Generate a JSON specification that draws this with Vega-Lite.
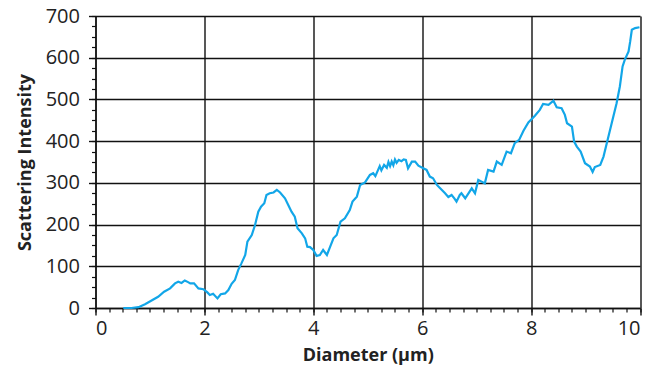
{
  "$schema": "https://vega.github.io/schema/vega-lite/v6.json",
  "width": 544.5,
  "height": 292,
  "autosize": {"type": "none"},
  "padding": {"left": 95.5, "top": 16, "right": 10, "bottom": 66},
  "background": "white",
  "config": {
    "view": {"stroke": null},
    "font": "Open Sans",
    "axis": {
      "labelFont": "Open Sans",
      "titleFont": "Open Sans",
      "labelColor": "#222",
      "titleColor": "#222"
    }
  },
  "data": {
    "values": [
      {"d": 0.51, "s": 0}, {"d": 0.66, "s": 0}, {"d": 0.79, "s": 2}, {"d": 0.91, "s": 9},
      {"d": 1.03, "s": 18}, {"d": 1.15, "s": 27}, {"d": 1.26, "s": 39}, {"d": 1.37, "s": 47},
      {"d": 1.46, "s": 59}, {"d": 1.52, "s": 63}, {"d": 1.58, "s": 60}, {"d": 1.64, "s": 66},
      {"d": 1.70, "s": 62}, {"d": 1.74, "s": 59}, {"d": 1.81, "s": 59}, {"d": 1.89, "s": 47},
      {"d": 1.98, "s": 45}, {"d": 2.05, "s": 38}, {"d": 2.10, "s": 31}, {"d": 2.16, "s": 34},
      {"d": 2.24, "s": 23}, {"d": 2.30, "s": 33}, {"d": 2.38, "s": 35}, {"d": 2.44, "s": 43},
      {"d": 2.50, "s": 58}, {"d": 2.56, "s": 67}, {"d": 2.62, "s": 91}, {"d": 2.68, "s": 107},
      {"d": 2.75, "s": 127}, {"d": 2.79, "s": 159}, {"d": 2.87, "s": 175}, {"d": 2.93, "s": 199},
      {"d": 2.99, "s": 231}, {"d": 3.04, "s": 243}, {"d": 3.10, "s": 251}, {"d": 3.14, "s": 271},
      {"d": 3.20, "s": 275}, {"d": 3.27, "s": 277}, {"d": 3.33, "s": 283}, {"d": 3.39, "s": 277},
      {"d": 3.48, "s": 263}, {"d": 3.54, "s": 247}, {"d": 3.60, "s": 231}, {"d": 3.66, "s": 219},
      {"d": 3.71, "s": 191}, {"d": 3.79, "s": 179}, {"d": 3.85, "s": 167}, {"d": 3.89, "s": 147},
      {"d": 3.94, "s": 146}, {"d": 4.00, "s": 139}, {"d": 4.06, "s": 125}, {"d": 4.12, "s": 127},
      {"d": 4.18, "s": 139}, {"d": 4.25, "s": 127}, {"d": 4.31, "s": 147}, {"d": 4.37, "s": 167},
      {"d": 4.43, "s": 175}, {"d": 4.50, "s": 207}, {"d": 4.58, "s": 215}, {"d": 4.67, "s": 235},
      {"d": 4.72, "s": 255}, {"d": 4.80, "s": 267}, {"d": 4.86, "s": 295}, {"d": 4.95, "s": 301},
      {"d": 5.04, "s": 319}, {"d": 5.10, "s": 323}, {"d": 5.14, "s": 316}, {"d": 5.19, "s": 331},
      {"d": 5.22, "s": 340}, {"d": 5.25, "s": 330}, {"d": 5.30, "s": 343}, {"d": 5.35, "s": 336},
      {"d": 5.38, "s": 350}, {"d": 5.41, "s": 340}, {"d": 5.44, "s": 351}, {"d": 5.47, "s": 342},
      {"d": 5.50, "s": 356}, {"d": 5.53, "s": 348}, {"d": 5.57, "s": 355}, {"d": 5.62, "s": 352},
      {"d": 5.66, "s": 356}, {"d": 5.70, "s": 355}, {"d": 5.74, "s": 335}, {"d": 5.81, "s": 351},
      {"d": 5.87, "s": 351}, {"d": 5.93, "s": 341}, {"d": 6.02, "s": 335}, {"d": 6.08, "s": 331},
      {"d": 6.14, "s": 315}, {"d": 6.20, "s": 311}, {"d": 6.27, "s": 295}, {"d": 6.33, "s": 287},
      {"d": 6.42, "s": 275}, {"d": 6.48, "s": 266}, {"d": 6.54, "s": 271}, {"d": 6.59, "s": 263},
      {"d": 6.63, "s": 255}, {"d": 6.69, "s": 271}, {"d": 6.72, "s": 275}, {"d": 6.79, "s": 263},
      {"d": 6.85, "s": 275}, {"d": 6.91, "s": 287}, {"d": 6.97, "s": 275}, {"d": 7.03, "s": 307},
      {"d": 7.09, "s": 303}, {"d": 7.15, "s": 299}, {"d": 7.21, "s": 331}, {"d": 7.31, "s": 327},
      {"d": 7.37, "s": 351}, {"d": 7.46, "s": 343}, {"d": 7.55, "s": 375}, {"d": 7.63, "s": 371},
      {"d": 7.70, "s": 395}, {"d": 7.78, "s": 403}, {"d": 7.86, "s": 425}, {"d": 7.95, "s": 445},
      {"d": 8.07, "s": 461}, {"d": 8.16, "s": 475}, {"d": 8.22, "s": 489}, {"d": 8.32, "s": 487},
      {"d": 8.41, "s": 497}, {"d": 8.47, "s": 481}, {"d": 8.56, "s": 479}, {"d": 8.62, "s": 463},
      {"d": 8.66, "s": 443}, {"d": 8.75, "s": 435}, {"d": 8.79, "s": 399}, {"d": 8.84, "s": 387},
      {"d": 8.91, "s": 375}, {"d": 8.99, "s": 347}, {"d": 9.08, "s": 339}, {"d": 9.13, "s": 326},
      {"d": 9.17, "s": 338}, {"d": 9.27, "s": 343}, {"d": 9.33, "s": 363}, {"d": 9.39, "s": 395},
      {"d": 9.48, "s": 443}, {"d": 9.57, "s": 491}, {"d": 9.63, "s": 531}, {"d": 9.68, "s": 579},
      {"d": 9.72, "s": 595}, {"d": 9.79, "s": 615}, {"d": 9.82, "s": 639}, {"d": 9.85, "s": 667},
      {"d": 9.91, "s": 671}, {"d": 9.99, "s": 673}
    ]
  },
  "layer": [
    {
      "mark": {"type": "line", "opacity": 0},
      "encoding": {
        "x": {
          "field": "d", "type": "quantitative",
          "scale": {"domain": [0, 10], "nice": false, "zero": false},
          "axis": {
            "orient": "bottom", "values": [0,0.25,0.5,0.75,1,1.25,1.5,1.75,2,2.25,2.5,2.75,3,3.25,3.5,3.75,4,4.25,4.5,4.75,5,5.25,5.5,5.75,6,6.25,6.5,6.75,7,7.25,7.5,7.75,8,8.25,8.5,8.75,9,9.25,9.5,9.75,10],
            "labels": false, "grid": false, "domain": false, "title": null,
            "tickSize": 4, "tickColor": "#111", "tickWidth": 1.2
          }
        },
        "y": {
          "field": "s", "type": "quantitative",
          "scale": {"domain": [0, 700], "nice": false},
          "axis": {
            "orient": "left", "values": [0,25,50,75,100,125,150,175,200,225,250,275,300,325,350,375,400,425,450,475,500,525,550,575,600,625,650,675,700],
            "labels": false, "grid": false, "domain": false, "title": null,
            "tickSize": 4, "tickColor": "#111", "tickWidth": 1.2
          }
        }
      }
    },
    {
      "mark": {"type": "line", "color": "#12a6e8", "strokeWidth": 2.2, "interpolate": "linear"},
      "encoding": {
        "x": {
          "field": "d", "type": "quantitative",
          "scale": {"domain": [0, 10], "nice": false, "zero": false},
          "axis": {
            "orient": "bottom", "values": [0, 2, 4, 6, 8, 10], "title": "Diameter (µm)",
            "grid": true, "gridColor": "#111", "gridWidth": 1.4, "gridOpacity": 1,
            "domainColor": "#111", "domainWidth": 1.4,
            "tickColor": "#111", "tickSize": 7, "tickWidth": 1.4,
            "labelFontSize": 20, "labelPadding": 3,
            "titleFontSize": 18, "titleFontWeight": "bold", "titlePadding": 8
          }
        },
        "y": {
          "field": "s", "type": "quantitative",
          "scale": {"domain": [0, 700], "nice": false},
          "axis": {
            "orient": "left", "values": [0, 100, 200, 300, 400, 500, 600, 700], "title": "Scattering Intensity",
            "grid": true, "gridColor": "#111", "gridWidth": 1.4, "gridOpacity": 1,
            "domainColor": "#111", "domainWidth": 1.4,
            "tickColor": "#111", "tickSize": 7, "tickWidth": 1.4,
            "labelFontSize": 20, "labelPadding": 9,
            "titleFontSize": 18, "titleFontWeight": "bold", "titlePadding": 11
          }
        }
      }
    }
  ],
  "resolve": {"axis": {"x": "independent", "y": "independent"}}
}
